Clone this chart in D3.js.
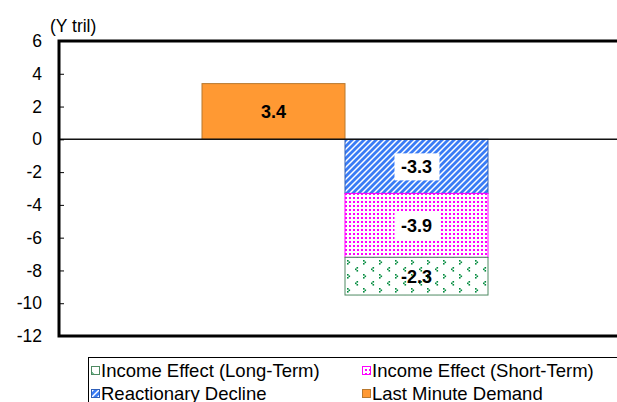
<!DOCTYPE html>
<html>
<head>
<meta charset="utf-8">
<script src="https://cdn.jsdelivr.net/npm/d3@7"></script>
<style>
  body { margin: 0; background: #fff; }
  svg { display: block; font-family: "Liberation Sans", Arial, sans-serif; }
</style>
</head>
<body>
<svg id="chart" width="617" height="402"></svg>
<script>
// data
const categories = ["Before the hike", "After the hike"];
const lastMinuteDemand = [3.4, 0];
const reactionaryDecline = [0, -3.3];
const incomeShortTerm = [0, -3.9];
const incomeLongTerm = [0, -2.3];
const yTicks = [6, 4, 2, 0, -2, -4, -6, -8, -10, -12];
const seriesNames = ["Last Minute Demand", "Reactionary Decline", "Income Effect (Short-Term)", "Income Effect (Long-Term)"];

const width = 617, height = 402;
const svg = d3.select("#chart");

const plotLeft = 59, plotRight = 631, plotTop = 41, plotBottom = 336;

const x = d3.scaleBand()
    .domain(categories)
    .range([plotLeft, plotRight])
    .paddingInner(0)
    .paddingOuter(1);

const y = d3.scaleLinear()
    .domain([-12, 6])
    .range([plotBottom, plotTop]);

// plain hyphen for negatives, like the original
const fmtTick = function(d) { return String(d); };
const fmtVal = function(d) { return d3.format(".1f")(d).replace("\u2212", "-"); };

// table for the stack
const table = categories.map(function(c, i) {
    return {
        cat: c,
        "Last Minute Demand": lastMinuteDemand[i],
        "Reactionary Decline": reactionaryDecline[i],
        "Income Effect (Short-Term)": incomeShortTerm[i],
        "Income Effect (Long-Term)": incomeLongTerm[i]
    };
});

const stacked = d3.stack()
    .keys(seriesNames)
    .offset(d3.stackOffsetDiverging)(table);

// patterns
const defs = svg.append("defs");

let p = defs.append("pattern").attr("id", "pBlue").attr("patternUnits", "userSpaceOnUse")
    .attr("width", 6).attr("height", 6);
p.append("rect").attr("width", 6).attr("height", 6).attr("fill", "#fff");
p.append("path").attr("d", "M-1,7 L7,-1 M-4,4 L4,-4 M2,10 L10,2")
    .attr("stroke", "#3a7cf5").attr("stroke-width", 2.8);

p = defs.append("pattern").attr("id", "pPink").attr("patternUnits", "userSpaceOnUse")
    .attr("width", 4).attr("height", 4);
p.append("rect").attr("width", 4).attr("height", 4).attr("fill", "#fff");
p.append("rect").attr("x", 1).attr("y", 1).attr("width", 2).attr("height", 2).attr("fill", "#ff00ff");

p = defs.append("pattern").attr("id", "pGreen").attr("patternUnits", "userSpaceOnUse")
    .attr("width", 16).attr("height", 14).attr("x", 344).attr("y", 258);
p.append("rect").attr("width", 16).attr("height", 14).attr("fill", "#fff");
// little ">" and "<" marks, staggered
[[3, 2, 1], [11, 9, -1]].forEach(function(m) {
    const gx = m[0], gy = m[1], dir = m[2];
    const cells = dir > 0 ? [[0, 0], [1, 1], [0, 2]] : [[1, 0], [0, 1], [1, 2]];
    cells.forEach(function(c) {
        p.append("rect").attr("x", gx + c[0] * 1.5).attr("y", gy + c[1] * 1.5)
            .attr("width", 1.6).attr("height", 1.6).attr("fill", "#008a3c");
    });
});

const fills = {
    "Last Minute Demand": "#ff9933",
    "Reactionary Decline": "url(#pBlue)",
    "Income Effect (Short-Term)": "url(#pPink)",
    "Income Effect (Long-Term)": "url(#pGreen)"
};
const strokes = {
    "Last Minute Demand": "#b8782e",
    "Reactionary Decline": "#2f5fb8",
    "Income Effect (Short-Term)": "#ff00ff",
    "Income Effect (Long-Term)": "#4f8a62"
};

// bars
const layer = svg.append("g").selectAll("g")
    .data(stacked)
    .join("g");

layer.selectAll("rect")
    .data(function(s) { return s.map(function(d) { d.key = s.key; return d; }); })
    .join("rect")
    .filter(function(d) { return d[1] - d[0] !== 0; })
    .attr("x", function(d) { return x(d.data.cat); })
    .attr("width", x.bandwidth())
    .attr("y", function(d) { return y(d[1]); })
    .attr("height", function(d) { return y(d[0]) - y(d[1]); })
    .attr("fill", function(d) { return fills[d.key]; })
    .attr("stroke", function(d) { return strokes[d.key]; })
    .attr("stroke-width", 1);

// zero line
svg.append("line")
    .attr("x1", plotLeft).attr("x2", width)
    .attr("y1", y(0)).attr("y2", y(0))
    .attr("stroke", "#111").attr("stroke-width", 1.5);

// value labels
const labelG = svg.append("g");
stacked.forEach(function(s) {
    s.forEach(function(d) {
        const v = d[1] - d[0];
        if (v === 0) return;
        const val = d.data[s.key];
        const cx = x(d.data.cat) + x.bandwidth() / 2;
        const cy = (y(d[0]) + y(d[1])) / 2;
        if (s.key === "Reactionary Decline" || s.key === "Income Effect (Short-Term)") {
            labelG.append("rect")
                .attr("x", cx - 22).attr("y", cy - 13)
                .attr("width", 45).attr("height", 27)
                .attr("fill", "#fff");
        }
        labelG.append("text")
            .attr("x", cx).attr("y", cy + 6.5)
            .attr("text-anchor", "middle")
            .attr("font-size", 18).attr("font-weight", "bold")
            .attr("fill", "#000")
            .text(fmtVal(val));
    });
});

// axis
const yAxis = d3.axisLeft(y).tickValues(yTicks).tickFormat(fmtTick).tickSize(-5).tickPadding(17);
const axisG = svg.append("g")
    .attr("transform", `translate(${plotLeft},0)`)
    .call(yAxis);
axisG.select(".domain").remove();
axisG.selectAll(".tick line").attr("stroke", "#000");
axisG.selectAll(".tick text")
    .attr("font-size", 17.5)
    .attr("font-family", "Liberation Sans, Arial, sans-serif")
    .attr("fill", "#000");

// plot frame (left, top, bottom)
svg.append("path")
    .attr("d", `M${width + 5},${plotTop} L${plotLeft},${plotTop} L${plotLeft},${plotBottom} L${width + 5},${plotBottom}`)
    .attr("fill", "none").attr("stroke", "#000").attr("stroke-width", 3);

svg.append("text")
    .attr("x", 50).attr("y", 32)
    .attr("font-size", 17.5)
    .text("(Y tril)");

// legend
const legend = svg.append("g");
legend.append("rect")
    .attr("x", 88.5).attr("y", 357.5)
    .attr("width", 600).attr("height", 60)
    .attr("fill", "#fff").attr("stroke", "#000").attr("stroke-width", 1);

const legendOrder = ["Income Effect (Long-Term)", "Income Effect (Short-Term)", "Reactionary Decline", "Last Minute Demand"];
legendOrder.forEach(function(name, i) {
    const lx = i % 2 === 0 ? 91 : 362;
    const ly = 366 + Math.floor(i / 2) * 23;
    legend.append("rect")
        .attr("x", lx + 0.5).attr("y", ly + 0.5)
        .attr("width", 8).attr("height", 8)
        .attr("fill", fills[name])
        .attr("stroke", strokes[name]);
    legend.append("text")
        .attr("x", lx + 10).attr("y", ly + 11)
        .attr("font-size", 18.5)
        .text(name);
});
</script>
</body>
</html>
